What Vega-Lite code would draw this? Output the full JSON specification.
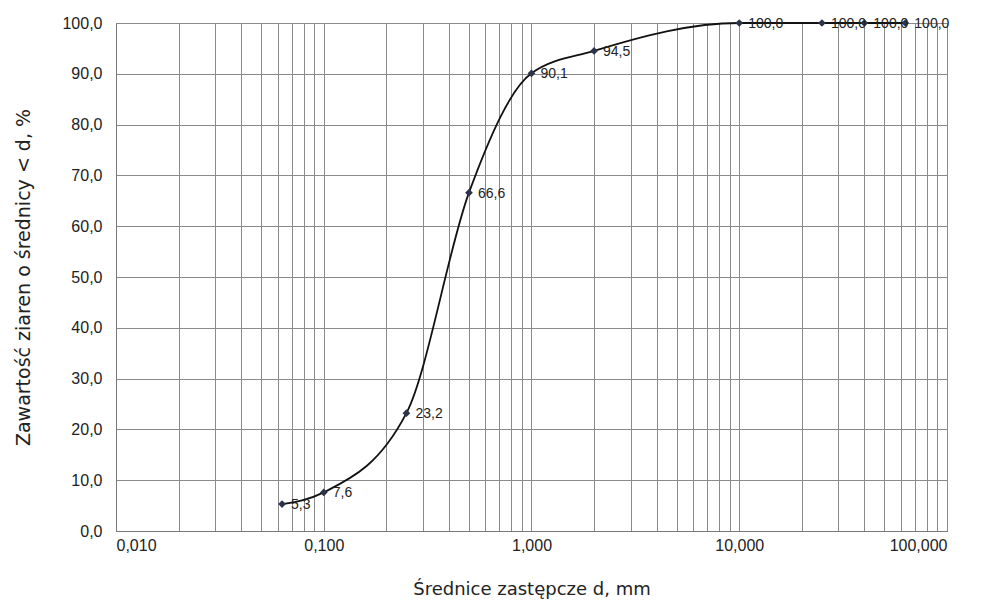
{
  "$schema": "https://vega.github.io/schema/vega-lite/v6.json",
  "width": 831,
  "height": 508,
  "autosize": {"type": "none"},
  "padding": {"left": 116, "top": 23, "right": 36, "bottom": 72},
  "background": "white",
  "config": {
    "locale": {"number": {"decimal": ",", "thousands": " ", "grouping": [3], "currency": ["", " zł"]}},
    "view": {"stroke": "#888888", "strokeWidth": 1},
    "axis": {"labelFont": "Liberation Sans", "labelFontSize": 16, "labelColor": "#222222", "titleFont": "DejaVu Sans", "titleFontWeight": "normal", "titleColor": "#222222", "gridColor": "#8a8a8a", "gridOpacity": 1, "gridWidth": 1, "domainColor": "#777777", "ticks": false}
  },
  "data": {"values": [
    {"d": 0.063, "p": 5.3},
    {"d": 0.1, "p": 7.6},
    {"d": 0.25, "p": 23.2},
    {"d": 0.5, "p": 66.6},
    {"d": 1, "p": 90.1},
    {"d": 2, "p": 94.5},
    {"d": 10, "p": 100},
    {"d": 25, "p": 100},
    {"d": 40, "p": 100},
    {"d": 63, "p": 100}
  ]},
  "encoding": {
    "x": {"field": "d", "type": "quantitative",
      "scale": {"type": "log", "domain": [0.01, 100], "nice": false},
      "axis": {"title": "Średnice zastępcze d, mm", "titleFontSize": 18,
        "values": [0.01,0.02,0.03,0.04,0.05,0.06,0.07,0.08,0.09,0.1,0.2,0.3,0.4,0.5,0.6,0.7,0.8,0.9,1,2,3,4,5,6,7,8,9,10,20,30,40,50,60,70,80,90,100],
        "labelExpr": "indexof([0.01,0.1,1,10,100], datum.value) >= 0 ? replace(format(datum.value, '.3f'), '.', ',') : ''",
        "labelPadding": 6, "titlePadding": 27}},
    "y": {"field": "p", "type": "quantitative",
      "scale": {"domain": [0, 100], "nice": false},
      "axis": {"title": "Zawartość ziaren o średnicy < d, %", "titleFontSize": 19, "values": [0,10,20,30,40,50,60,70,80,90,100],
        "labelExpr": "replace(format(datum.value, '.1f'), '.', ',')",
        "labelPadding": 14, "titlePadding": 28}}
  },
  "layer": [
    {"mark": {"type": "line", "interpolate": "monotone", "color": "#111111", "strokeWidth": 1.8}},
    {"mark": {"type": "point", "shape": "diamond", "filled": true, "size": 60, "color": "#2b3448", "opacity": 1}},
    {"mark": {"type": "text", "align": "left", "dx": 9, "dy": 1, "font": "Liberation Sans", "fontSize": 14, "color": "#222222"},
      "encoding": {"text": {"field": "p", "type": "quantitative", "format": ".1f"}}}
  ]
}
